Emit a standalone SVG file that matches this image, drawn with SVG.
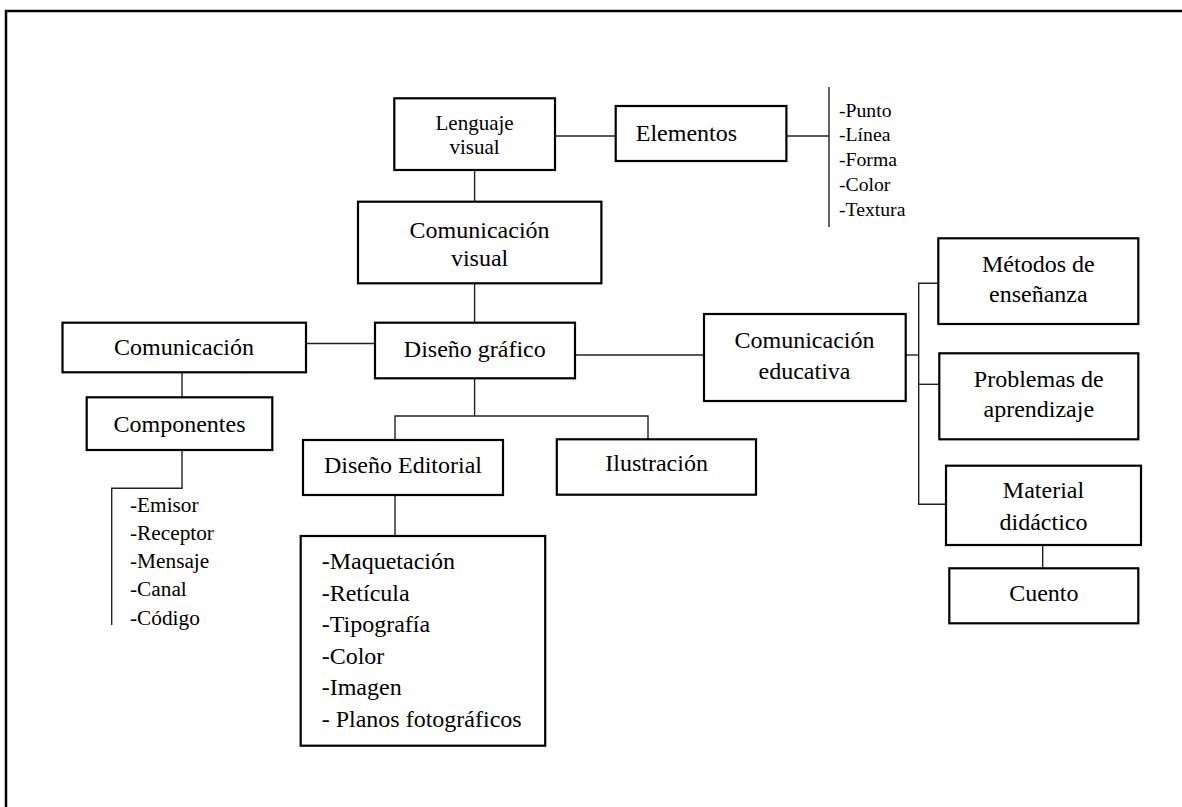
<svg xmlns="http://www.w3.org/2000/svg" width="1182" height="807" viewBox="0 0 1182 807">
<style>
.box{fill:#fff;stroke:#000;stroke-width:2.2}
.con{fill:none;stroke:#222;stroke-width:1.4}
text{font-family:"Liberation Serif","Times New Roman",serif;fill:#000}
.t{font-size:24px;text-anchor:middle}
.ts{font-size:21px;text-anchor:middle}
.l20{font-size:19.7px}
.l21{font-size:21.3px}
.l24{font-size:24px}
</style>
<rect width="1182" height="807" fill="#fff"/>
<rect x="6" y="11" width="1200" height="820" fill="none" stroke="#000" stroke-width="2.5"/>
<g id="connectors">
<line class="con" x1="555" y1="136" x2="616" y2="136"/>
<line class="con" x1="786" y1="136" x2="829" y2="136"/>
<line class="con" x1="829" y1="87" x2="829" y2="227"/>
<line class="con" x1="474.6" y1="170" x2="474.6" y2="202"/>
<line class="con" x1="474.6" y1="283" x2="474.6" y2="323"/>
<line class="con" x1="306" y1="343.5" x2="375" y2="343.5"/>
<line class="con" x1="182" y1="372" x2="182" y2="397"/>
<polyline class="con" points="182,450 182,488.3 111.7,488.3 111.7,625"/>
<line class="con" x1="474.6" y1="378" x2="474.6" y2="416"/>
<polyline class="con" points="395,440 395,416 648,416 648,439"/>
<line class="con" x1="395" y1="495" x2="395" y2="536"/>
<line class="con" x1="575" y1="355" x2="704" y2="355"/>
<line class="con" x1="906" y1="355" x2="918.7" y2="355"/>
<polyline class="con" points="938.5,283.3 918.7,283.3 918.7,504.3 946.5,504.3"/>
<line class="con" x1="918.7" y1="384.3" x2="939.3" y2="384.3"/>
<line class="con" x1="1042.7" y1="545" x2="1042.7" y2="568.3"/>
</g>
<g id="lenguaje-visual">
<rect class="box" x="394.3" y="98.3" width="160.7" height="71.7"/>
<text class="ts" x="474.6" y="130">Lenguaje</text>
<text class="ts" x="474.6" y="154">visual</text>
</g>
<g id="elementos">
<rect class="box" x="615.7" y="106" width="170.7" height="55"/>
<text class="t" x="686.4" y="141">Elementos</text>
</g>
<g id="elementos-lista">
<text class="l20" x="839" y="116.7">-Punto</text>
<text class="l20" x="839" y="141.4">-Línea</text>
<text class="l20" x="839" y="166.2">-Forma</text>
<text class="l20" x="839" y="190.9">-Color</text>
<text class="l20" x="839" y="215.7">-Textura</text>
</g>
<g id="comunicacion-visual">
<rect class="box" x="358" y="201.7" width="243.4" height="81.6"/>
<text class="t" x="479.6" y="238">Comunicación</text>
<text class="t" x="479.6" y="266">visual</text>
</g>
<g id="comunicacion">
<rect class="box" x="62.5" y="322.7" width="243.5" height="49.6"/>
<text class="t" x="184" y="355">Comunicación</text>
</g>
<g id="diseno-grafico">
<rect class="box" x="375" y="322.7" width="200" height="55.6"/>
<text class="t" x="474.8" y="356.5">Diseño gráfico</text>
</g>
<g id="componentes">
<rect class="box" x="86.7" y="397.3" width="185.6" height="52.7"/>
<text class="t" x="179.5" y="431.7">Componentes</text>
</g>
<g id="componentes-lista">
<text class="l21" x="130" y="511.7">-Emisor</text>
<text class="l21" x="130" y="539.9">-Receptor</text>
<text class="l21" x="130" y="568.1">-Mensaje</text>
<text class="l21" x="130" y="596.3">-Canal</text>
<text class="l21" x="130" y="624.5">-Código</text>
</g>
<g id="diseno-editorial">
<rect class="box" x="303" y="440" width="200" height="55"/>
<text class="t" x="403" y="472.7">Diseño Editorial</text>
</g>
<g id="ilustracion">
<rect class="box" x="556.8" y="439.3" width="199.2" height="55.4"/>
<text class="t" x="656.6" y="470.7">Ilustración</text>
</g>
<g id="editorial-lista">
<rect class="box" x="300.7" y="536" width="244.5" height="209.7"/>
<text class="l24" x="321.7" y="569.3">-Maquetación</text>
<text class="l24" x="321.7" y="600.8">-Retícula</text>
<text class="l24" x="321.7" y="632.3">-Tipografía</text>
<text class="l24" x="321.7" y="663.8">-Color</text>
<text class="l24" x="321.7" y="695.3">-Imagen</text>
<text class="l24" x="321.7" y="726.8">- Planos fotográficos</text>
</g>
<g id="comunicacion-educativa">
<rect class="box" x="704" y="314" width="201.7" height="87"/>
<text class="t" x="804.5" y="347.7">Comunicación</text>
<text class="t" x="804.5" y="379.3">educativa</text>
</g>
<g id="metodos">
<rect class="box" x="938.3" y="238.3" width="200" height="85.7"/>
<text class="t" x="1038.3" y="271.7">Métodos de</text>
<text class="t" x="1038.3" y="301.7">enseñanza</text>
</g>
<g id="problemas">
<rect class="box" x="939.3" y="353.3" width="199" height="86"/>
<text class="t" x="1038.8" y="386.7">Problemas de</text>
<text class="t" x="1038.8" y="416.7">aprendizaje</text>
</g>
<g id="material">
<rect class="box" x="946" y="465.7" width="195" height="79.3"/>
<text class="t" x="1043.5" y="498.3">Material</text>
<text class="t" x="1043.5" y="530">didáctico</text>
</g>
<g id="cuento">
<rect class="box" x="949.3" y="568.3" width="189" height="55"/>
<text class="t" x="1043.8" y="600.7">Cuento</text>
</g>
</svg>
